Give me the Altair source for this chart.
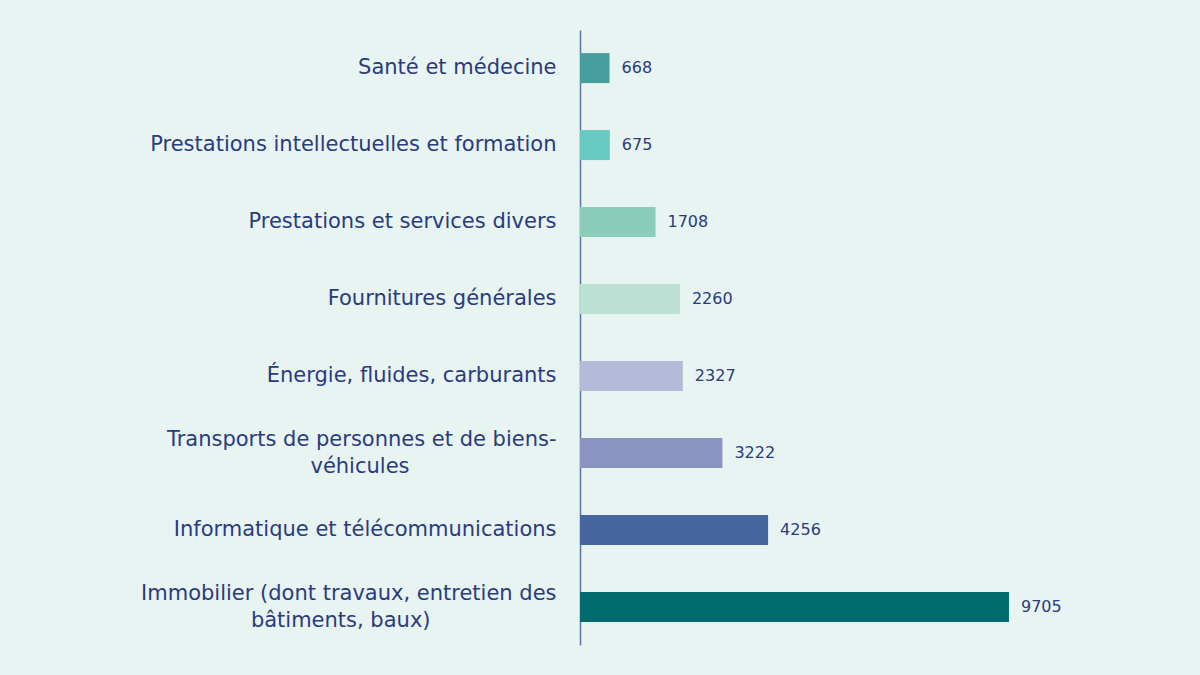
import altair as alt
import pandas as pd

# Purchase categories, top to bottom
categories = [
    "Santé et médecine",
    "Prestations intellectuelles et formation",
    "Prestations et services divers",
    "Fournitures générales",
    "Énergie, fluides, carburants",
    "Transports de personnes et de biens-\nvéhicules",
    "Informatique et télécommunications",
    "Immobilier (dont travaux, entretien des\nbâtiments, baux)",
]
values = [668, 675, 1708, 2260, 2327, 3222, 4256, 9705]
colors = ["#479c9e", "#66c9c2", "#8ccdb9", "#bde0d5",
          "#b4bbd8", "#8a94c2", "#4666a0", "#006b6c"]

df = pd.DataFrame({"categorie": categories, "valeur": values})

TEXT = "#2a3b7e"
FONT = "DejaVu Sans"
MULTILINE = "indexof(datum.value, '\\n') >= 0"

# Split two-line labels and pad the short second line with en spaces so it
# sits roughly centred under the first one (a zero-width space closes the
# padding so it is not trimmed away).
L = "split(datum.label, '\\n')"
LABEL_EXPR = (
    f"length({L}) > 1 ? "
    f"[{L}[0], pad({L}[1], length({L}[1]) + round((length({L}[0]) - length({L}[1])) * 0.52), '\u2002') + '\u200b']"
    " : datum.label"
)

y = alt.Y(
    "categorie:N",
    sort=categories,
    scale=alt.Scale(paddingInner=0.61, paddingOuter=0.3),
    axis=alt.Axis(
        title=None,
        ticks=False,
        grid=False,
        domainColor="#5a74a8",
        domainWidth=1.5,
        labelFont=FONT,
        labelFontSize=21,
        labelColor=TEXT,
        labelPadding=24,
        labelLimit=500,
        labelLineHeight=27,
        labelExpr=LABEL_EXPR,
        # two-line labels are centred on their bar
        labelOffset={"condition": {"test": MULTILINE, "value": -13}, "value": 0},
    ),
)
x = alt.X("valeur:Q", scale=alt.Scale(domain=[0, 13575]), axis=None)

bars = alt.Chart(df).mark_bar(size=30).encode(
    x=x,
    y=y,
    color=alt.Color("categorie:N", scale=alt.Scale(domain=categories, range=colors), legend=None),
)

labels = alt.Chart(df).mark_text(
    align="left", baseline="middle", dx=12, font=FONT, fontSize=16, color=TEXT
).encode(x=x, y=alt.Y("categorie:N", sort=categories), text="valeur:Q")

chart = (
    alt.layer(bars, labels)
    .properties(
        width=600,
        height=615,
        padding={"left": 580, "top": 30, "right": 20, "bottom": 30},
        autosize=alt.AutoSizeParams(type="none"),
        background="#e8f4f1",
    )
    .configure_view(stroke=None)
)

chart.save("out.html", embed_options={"renderer": "svg", "actions": False})
